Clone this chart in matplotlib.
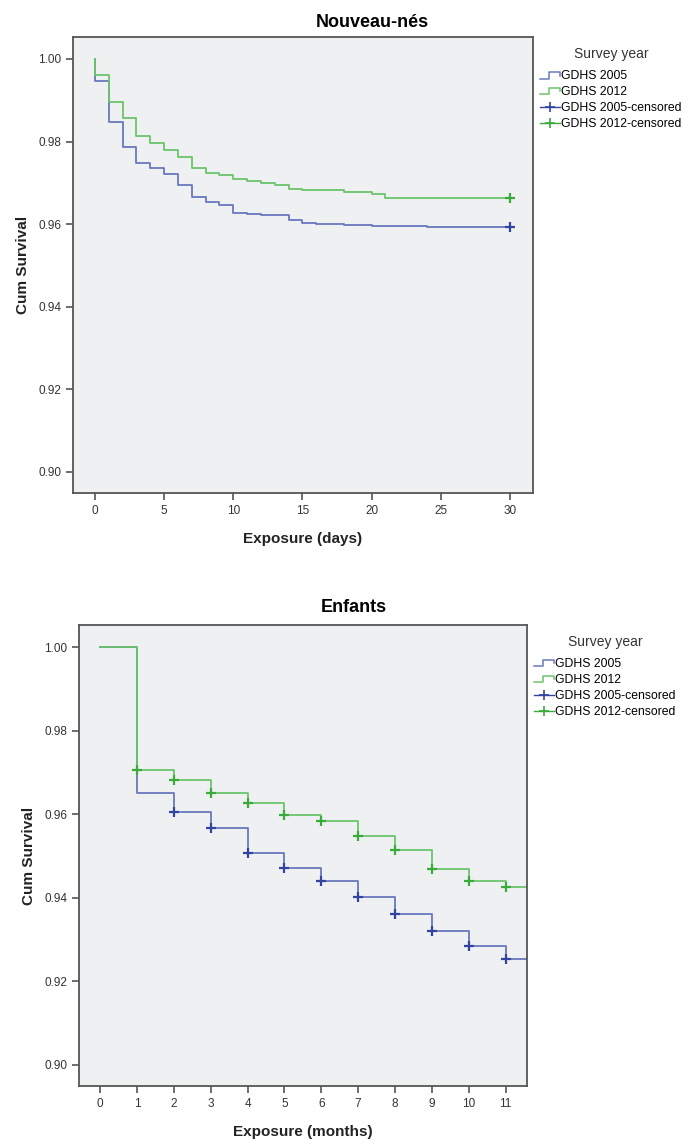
import matplotlib
matplotlib.use("Agg")
import matplotlib.pyplot as plt
from matplotlib.legend_handler import HandlerBase
from matplotlib.lines import Line2D

plt.rcParams['font.family'] = ['Liberation Sans', 'DejaVu Sans']

# Nouveau-nes (days) : survival after each drop
days_2005 = [0, 0, 1, 2, 3, 4, 5, 6, 7, 8, 9, 10, 11, 12, 14, 15, 16, 18, 20, 21, 24, 30]
surv_days_2005 = [1.0, 0.9946, 0.9848, 0.9787, 0.9749, 0.9737, 0.9721, 0.9694, 0.9665,
                  0.9654, 0.9647, 0.9628, 0.9625, 0.9622, 0.9611, 0.9604, 0.9601,
                  0.9598, 0.9596, 0.9595, 0.9593, 0.9593]
days_2012 = [0, 0, 1, 2, 3, 4, 5, 6, 7, 8, 9, 10, 11, 12, 13, 14, 15, 16, 18, 20, 21, 30]
surv_days_2012 = [1.0, 0.9961, 0.9896, 0.9856, 0.9814, 0.9797, 0.9780, 0.9763, 0.9736,
                  0.9723, 0.9719, 0.9709, 0.9705, 0.9700, 0.9694, 0.9685, 0.9683,
                  0.9682, 0.9679, 0.9674, 0.9663, 0.9663]
cens_days = [30]

# Enfants (months)
months = [0, 1, 2, 3, 4, 5, 6, 7, 8, 9, 10, 11, 12]
surv_months_2005 = [1.0, 0.9651, 0.9604, 0.9567, 0.9508, 0.9472, 0.9441, 0.9401,
                    0.9360, 0.9319, 0.9283, 0.9254, 0.9254]
surv_months_2012 = [1.0, 0.9706, 0.9681, 0.9651, 0.9626, 0.9597, 0.9583, 0.9547,
                    0.9514, 0.9469, 0.9441, 0.9425, 0.9425]
cens_months_2005 = [2, 3, 4, 5, 6, 7, 8, 9, 10, 11]
cens_months_2012 = [1, 2, 3, 4, 5, 6, 7, 8, 9, 10, 11]

labels = ['GDHS 2005', 'GDHS 2012', 'GDHS 2005-censored', 'GDHS 2012-censored']
line_blue, line_green = '#6a78bd', '#6cc46c'
mark_blue, mark_green = '#3344a0', '#3aaa3a'
bg = '#eff0f2'
frame = '#555555'


class StepHandler(HandlerBase):
    # legend key drawn as a little step like SPSS
    def create_artists(self, legend, orig_handle, xd, yd, width, height, fontsize, trans):
        x = [-xd, -xd + 0.45 * width, -xd + 0.45 * width, -xd + width, -xd + width]
        y = [-yd + 0.1 * height, -yd + 0.1 * height, -yd + 0.85 * height,
             -yd + 0.85 * height, -yd + 0.45 * height]
        ln = Line2D(x, y, color=orig_handle.get_color(), lw=1.1, transform=trans)
        return [ln]


def value_at(times, surv, t):
    idx = max(i for i, tt in enumerate(times) if tt <= t)
    return surv[idx]


def draw(ax, t05, s05, t12, s12, c05, c12, xlim, xticks, xlabel):
    ax.set_facecolor(bg)
    ax.step(t05, s05, where='post', color=line_blue, lw=1.3)
    ax.step(t12, s12, where='post', color=line_green, lw=1.3)
    ax.plot(c05, [value_at(t05, s05, t) for t in c05], '+', color=mark_blue, ms=7, mew=1.6)
    ax.plot(c12, [value_at(t12, s12, t) for t in c12], '+', color=mark_green, ms=7, mew=1.6)
    ax.set_xlim(*xlim)
    ax.set_ylim(0.8949, 1.0053)
    ax.set_xticks(xticks)
    ax.set_yticks([0.90, 0.92, 0.94, 0.96, 0.98, 1.00])
    ax.set_yticklabels(['%.2f' % v for v in ax.get_yticks()])
    ax.tick_params(direction='out', length=5, width=1.2, color=frame,
                   labelsize=8.5, labelcolor='#333333')
    for s in ax.spines.values():
        s.set_color(frame)
        s.set_linewidth(1.3)
    ax.set_xlabel(xlabel, fontsize=11, fontweight='bold', color='#222222', labelpad=11)
    ax.set_ylabel('Cum Survival', fontsize=11, fontweight='bold', color='#222222', labelpad=6)
    handles = [Line2D([], [], color=line_blue), Line2D([], [], color=line_green),
               Line2D([], [], color=mark_blue, marker='+', ms=7, mew=1.2, lw=1),
               Line2D([], [], color=mark_green, marker='+', ms=7, mew=1.2, lw=1)]
    leg = ax.legend(handles, labels, title='Survey year', loc='upper left',
                    bbox_to_anchor=(1.0, 0.995), frameon=False, fontsize=8.8,
                    title_fontsize=10, handlelength=1.6, handletextpad=0.1,
                    labelspacing=0.32, borderaxespad=0.2,
                    handler_map={handles[0]: StepHandler(), handles[1]: StepHandler()})
    leg.get_title().set_color('#333333')
    leg._legend_box.sep = 7


fig = plt.figure(figsize=(6.84, 11.4), dpi=100)
ax1 = fig.add_axes([0.1067, 0.5675, 0.6725, 0.40])
ax2 = fig.add_axes([0.1155, 0.0474, 0.6550, 0.4044])

draw(ax1, days_2005, surv_days_2005, days_2012, surv_days_2012, cens_days, cens_days,
     (-1.59, 31.66), [0, 5, 10, 15, 20, 25, 30], 'Exposure (days)')
draw(ax2, months, surv_months_2005, months, surv_months_2012, cens_months_2005,
     cens_months_2012, (-0.57, 11.58), list(range(12)), 'Exposure (months)')

fig.text(0.545, 0.980, 'Nouveau-nés', ha='center', va='center', fontsize=13, fontweight='bold')
fig.text(0.518, 0.467, 'Enfants', ha='center', va='center', fontsize=13, fontweight='bold')

fig.savefig('out.png', dpi=100)
